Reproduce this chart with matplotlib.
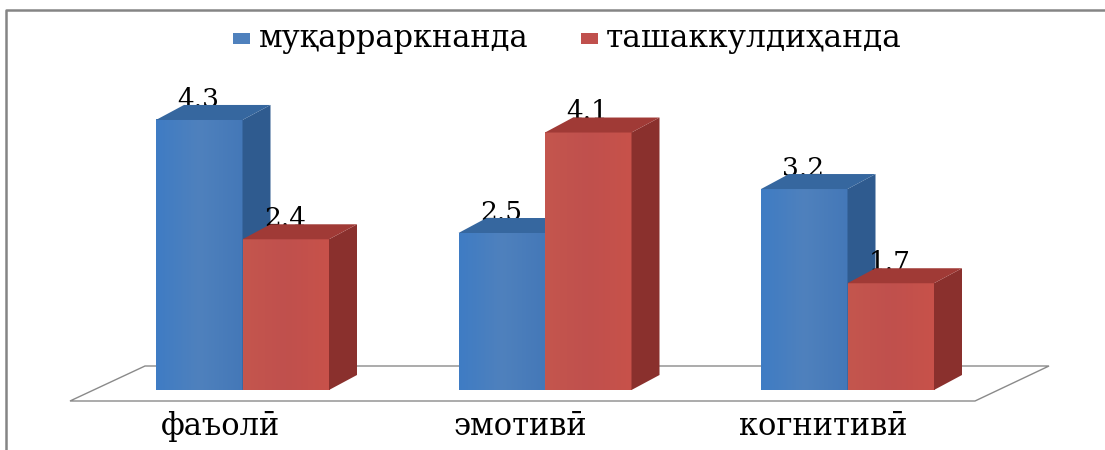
#!/usr/bin/env python
import numpy as np
import matplotlib
matplotlib.use("Agg")
import matplotlib.pyplot as plt
from matplotlib.patches import Polygon, Rectangle
from matplotlib.colors import LinearSegmentedColormap

categories = ["фаъолӣ", "эмотивӣ", "когнитивӣ"]
series_names = ["муқарраркнанда", "ташаккулдиҳанда"]
values_a = [4.3, 2.5, 3.2]
values_b = [2.4, 4.1, 1.7]

W, H = 1105, 450
# px scales of the fake 3d chart
unit_x = 302.5
unit_y = 62.8
x0_px = 242.5
base_px = 390
bar_w = 86.5 / unit_x
dx = 28 / unit_x
dy = 15 / unit_y

# the reference text is stretched sideways, the wider serif comes closest
plt.rcParams['font.family'] = ['DejaVu Serif', 'Liberation Serif']

fig = plt.figure(figsize=(W / 100, H / 100), dpi=100)
ax = fig.add_axes([0, 0, 1, 1])
ax.set_xlim(-x0_px / unit_x, (W - x0_px) / unit_x)
ax.set_ylim(-(H - base_px) / unit_y, base_px / unit_y)
ax.axis('off')

def px(x, y):
    # picture pixels to data, only for frame, floor and legend
    return (x - x0_px) / unit_x, (base_px - y) / unit_y

# frame
frame = [px(6, 450), px(6, 10), px(1105, 10)]
ax.plot(*zip(*frame), color='#858585', lw=1.8, zorder=0)

# floor
floor = [px(70, 401), px(975, 401), px(1049, 366), px(145, 366)]
ax.add_patch(Polygon(floor, closed=True, fill=False, ec='#8a8a8a', lw=1.0, zorder=0.5))

styles = [
    {'front': ['#3f7cc4', '#4f81bd', '#4478b8'], 'side': '#2f5b8f', 'top': '#36679f'},
    {'front': ['#c4564e', '#c0504d', '#c8524a'], 'side': '#8a302d', 'top': '#a03a36'},
]

def draw_bar(left, val, st, z):
    cmap = LinearSegmentedColormap.from_list("", st['front'])
    g = np.linspace(0, 1, 64).reshape(1, -1)
    ax.imshow(g, cmap=cmap, extent=(left, left + bar_w, 0, val), aspect='auto', zorder=z)
    r = left + bar_w
    ax.add_patch(Polygon([(r, 0), (r + dx, dy), (r + dx, val + dy), (r, val)],
                         fc=st['side'], ec='none', zorder=z))
    ax.add_patch(Polygon([(left, val), (left + dx, val + dy), (r + dx, val + dy), (r, val)],
                         fc=st['top'], ec='none', zorder=z))

# imshow resets the limits
xlim, ylim = ax.get_xlim(), ax.get_ylim()

cat_x = [220, 520, 823]
for i, (a, b) in enumerate(zip(values_a, values_b)):
    draw_bar(i - bar_w, a, styles[0], 2)
    draw_bar(i, b, styles[1], 4)
    # labels sit a little behind the bar tops, as in the reference
    ax.text(i - bar_w + 0.14, a + dy - 0.03, str(a), fontsize=19, ha='center', va='baseline', zorder=1)
    ax.text(i + 0.14, b + dy - 0.03, str(b), fontsize=19, ha='center', va='baseline', zorder=3)
    cx, cy = px(cat_x[i], 435)
    ax.text(cx, cy, categories[i], fontsize=22, ha='center', va='baseline', zorder=5)

ax.set_xlim(xlim)
ax.set_ylim(ylim)

# legend
ax.add_patch(Rectangle(px(233, 44), 17 / unit_x, 11 / unit_y, fc='#4f81bd', ec='none'))
ax.add_patch(Rectangle(px(581, 44), 17 / unit_x, 11 / unit_y, fc='#c0504d', ec='none'))
lx, ly = px(259, 47)
ax.text(lx, ly, series_names[0], fontsize=22, ha='left', va='baseline')
lx, ly = px(606, 47)
ax.text(lx, ly, series_names[1], fontsize=22.5, ha='left', va='baseline')

fig.savefig('out.png', dpi=100)
